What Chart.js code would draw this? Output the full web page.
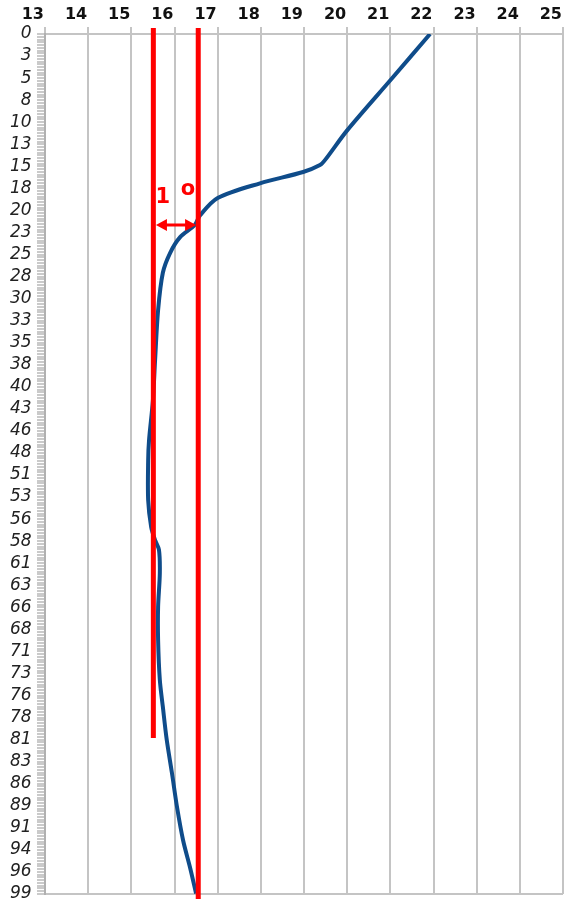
<!DOCTYPE html>
<html>
<head>
<meta charset="utf-8">
<script src="https://cdn.jsdelivr.net/npm/chart.js@4/dist/chart.umd.min.js"></script>
<style>
  html, body { margin: 0; padding: 0; background: #fff; }
  canvas { display: block; }
</style>
</head>
<body>
<canvas id="profile" width="564" height="899"></canvas>
<script>
// depth profile (cm) and water temperature (deg C)
var depths = [0, 5.1, 11.1, 14.5, 15.1, 15.9, 17.2, 18.9, 20.9, 22.0, 23.4, 25.2, 27.5, 31.8, 37.6, 42.2,
              46.8, 49.1, 53.7, 56.8, 58.3, 59.4, 62.1, 66.0, 69.8, 74.4, 77.5, 81.3, 85.1, 89.1, 92.9, 96.0, 99.0];
var temps = [21.92, 21.04, 20.0, 19.49, 19.37, 18.98, 17.98, 17.0, 16.59, 16.47, 16.13, 15.9, 15.73, 15.62, 15.55, 15.5,
             15.41, 15.39, 15.39, 15.46, 15.55, 15.64, 15.66, 15.62, 15.62, 15.66, 15.73, 15.82, 15.94, 16.06, 16.2, 16.36, 16.5];

// depth labels as printed on the axis, one every 2.54 cm, 8 small marks between
var depthLabels = ["0", "3", "5", "8", "10", "13", "15", "18", "20", "23", "25", "28", "30", "33", "35", "38",
                   "40", "43", "46", "48", "51", "53", "56", "58", "61", "63", "66", "68", "71", "73", "76", "78",
                   "81", "83", "86", "89", "91", "94", "96", "99"];
var depthMax = 99.06;
var marksPerLabel = 8;
var depthStep = 2.54 / marksPerLabel;
var tempMin = 13, tempMax = 25;

// red marker lines, arrow (tip to tip) and note
var leftLineT = [15.51, 15.51], leftLineD = [-0.7, 81.1];
var rightLineT = [16.55, 16.55], rightLineD = [-0.7, 100.5];
var arrowT = [15.57, 16.5], arrowD = [22.0, 22.0];
var noteText = ["1", "o"], noteT = [15.73, 16.31], noteD = [18.8, 17.9];

function pts(xs, ys) {
  return xs.map(function (x, i) { return { x: x, y: ys[i] }; });
}

var gray = "#c4c4c4";

var notes = {
  id: "notes",
  afterDatasetsDraw: function (chart) {
    var ctx = chart.ctx, sx = chart.scales.x, sy = chart.scales.y;
    ctx.save();
    ctx.fillStyle = "#ff0000";
    ctx.strokeStyle = "#ff0000";

    // double headed arrow
    var x0 = sx.getPixelForValue(arrowT[0]), x1 = sx.getPixelForValue(arrowT[1]);
    var y0 = sy.getPixelForValue(arrowD[0]);
    var head = 11, half = 6;
    ctx.lineWidth = 3;
    ctx.beginPath();
    ctx.moveTo(x0 + head - 1, y0);
    ctx.lineTo(x1 - head + 1, y0);
    ctx.stroke();
    ctx.beginPath();
    ctx.moveTo(x0, y0);
    ctx.lineTo(x0 + head, y0 - half);
    ctx.lineTo(x0 + head, y0 + half);
    ctx.closePath();
    ctx.moveTo(x1, y0);
    ctx.lineTo(x1 - head, y0 - half);
    ctx.lineTo(x1 - head, y0 + half);
    ctx.closePath();
    ctx.fill();

    ctx.font = "bold 21px 'DejaVu Sans'";
    ctx.textAlign = "center";
    ctx.textBaseline = "middle";
    noteText.forEach(function (t, i) {
      ctx.fillText(t, sx.getPixelForValue(noteT[i]), sy.getPixelForValue(noteD[i]));
    });
    ctx.restore();
  }
};

new Chart("profile", {
  type: "line",
  data: {
    datasets: [{
      data: pts(temps, depths),
      borderColor: "#0f4c8a",
      borderWidth: 4,
      pointRadius: 0,
      tension: 0.3,
      order: 2
    }, {
      data: pts(leftLineT, leftLineD),
      borderColor: "#ff0000",
      borderWidth: 5,
      pointRadius: 0,
      clip: false,
      order: 1
    }, {
      data: pts(rightLineT, rightLineD),
      borderColor: "#ff0000",
      borderWidth: 5,
      pointRadius: 0,
      clip: false,
      order: 1
    }]
  },
  options: {
    responsive: false,
    animation: false,
    indexAxis: "y",
    layout: { padding: { top: 0, right: 1, bottom: 5, left: 0 } },
    plugins: {
      legend: { display: false },
      tooltip: { enabled: false }
    },
    scales: {
      x: {
        type: "linear",
        position: "top",
        min: tempMin,
        max: tempMax,
        afterFit: function (s) { s.height = 34; },
        ticks: {
          stepSize: 1,
          align: "end",
          labelOffset: -1,
          padding: 0,
          color: "#111",
          font: { family: "'DejaVu Sans'", size: 16, weight: "bold", lineHeight: 1.56 }
        },
        grid: { color: gray, lineWidth: 2, tickLength: 7 },
        border: { color: gray, width: 2 }
      },
      y: {
        type: "linear",
        reverse: true,
        min: 0,
        max: depthMax,
        afterFit: function (s) { s.width = 45; },
        ticks: {
          stepSize: depthStep,
          autoSkip: false,
          padding: 0,
          color: "#222",
          font: { family: "'DejaVu Sans'", size: 17, style: "italic", lineHeight: 0.5 },
          callback: function (v) {
            var k = Math.round(v / depthStep);
            return k % marksPerLabel === 0 ? depthLabels[k / marksPerLabel] + " " : "";
          }
        },
        grid: {
          color: function (c) {
            return c.tick && (c.tick.value === 0 || Math.abs(c.tick.value - depthMax) < 0.01) ? gray : "rgba(0,0,0,0)";
          },
          tickColor: "#b8b8b8",
          tickWidth: 1.5,
          lineWidth: 2,
          tickLength: 8
        },
        border: { color: "#b0b0b0", width: 2 }
      }
    }
  },
  plugins: [notes]
});
</script>
</body>
</html>
